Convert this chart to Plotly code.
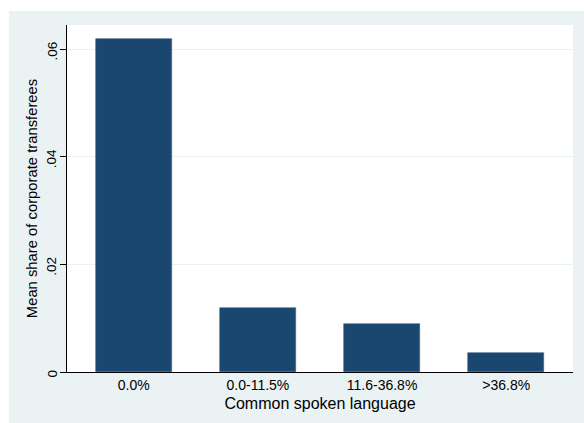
import plotly.graph_objects as go

categories = ["0.0%", "0.0-11.5%", "11.6-36.8%", ">36.8%"]
values = [0.0618, 0.01183, 0.00892, 0.00359]
y_tickvals = [0, 0.02, 0.04, 0.06]
y_ticktext = ["0", ".02", ".04", ".06"]

BG = "#eaf2f3"
BAR = "#1a476f"
FONT = "Liberation Sans, Arial, sans-serif"

W, H = 584, 423
ml, mr, mt, mb = 67, 11, 25, 51
pw = W - ml - mr
ph = H - mt - mb

fig = go.Figure()
fig.add_trace(go.Bar(
    x=list(range(len(categories))), y=values, width=0.608,
    marker=dict(color=BAR, line=dict(color="#3a6187", width=0.6)),
    hoverinfo="skip",
))

# rotated y tick labels placed on the y axis scale
for v, t in zip(y_tickvals, y_ticktext):
    fig.add_annotation(
        x=(51.5 - ml) / pw, xref="paper", y=v, yref="y",
        text=t, textangle=-90, showarrow=False,
        xanchor="center", yanchor="middle", yshift=-2,
        font=dict(size=13.5, color="black", family=FONT),
    )

fig.update_layout(
    width=W, height=H,
    margin=dict(l=ml, r=mr, t=mt, b=mb, pad=0),
    paper_bgcolor=BG, plot_bgcolor="white",
    font=dict(family=FONT, color="black", size=13),
    showlegend=False,
    bargap=0,
    shapes=[
        dict(type="rect", xref="paper", yref="paper",
             x0=-ml / pw - 0.01, x1=(9 - ml) / pw, y0=-mb / ph - 0.05, y1=1 + mt / ph + 0.05,
             fillcolor="white", line=dict(width=0), layer="below"),
        dict(type="rect", xref="paper", yref="paper",
             x0=-ml / pw - 0.01, x1=1 + mr / pw + 0.01, y0=1 + (mt - 11) / ph, y1=1 + mt / ph + 0.05,
             fillcolor="white", line=dict(width=0), layer="below"),
    ],
)

fig.update_xaxes(
    range=[-0.538, 3.538],
    tickmode="array", tickvals=list(range(len(categories))), ticktext=categories,
    ticks="", showgrid=False, zeroline=False,
    showline=True, linecolor="black", linewidth=1.2,
    tickfont=dict(size=14),
    title=dict(text="Common spoken language", font=dict(size=16), standoff=5),
)
fig.update_yaxes(
    range=[0, 0.06 * ph / 323],
    tickmode="array", tickvals=y_tickvals, ticktext=y_ticktext,
    showticklabels=False,
    ticks="outside", ticklen=6, tickcolor="black", tickwidth=1,
    showgrid=True, gridcolor=BG, gridwidth=1.2, zeroline=False,
    showline=True, linecolor="black", linewidth=1.2,
    title=dict(text="Mean share of corporate transferees", font=dict(size=14.8), standoff=18),
)

fig.write_html("out.html")
